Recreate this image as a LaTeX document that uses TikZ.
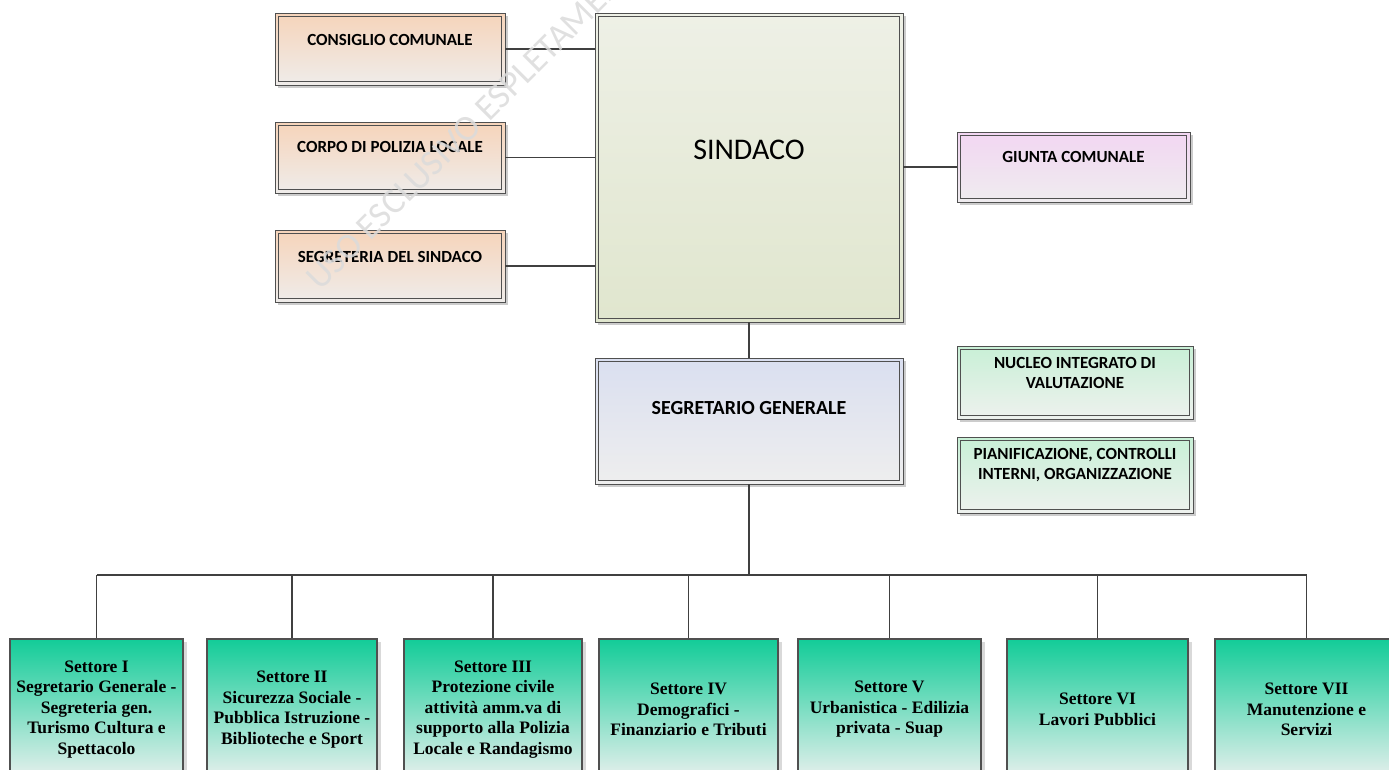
\documentclass[tikz,border=0pt]{standalone}
\usepackage{fontspec}
\setmainfont{Carlito}
\newfontfamily\serifbold{Liberation Serif}
\usetikzlibrary{shadows}

\definecolor{peachT}{HTML}{F6D4BA}
\definecolor{peachB}{HTML}{EFECEA}
\definecolor{sindT}{HTML}{EEF0E6}
\definecolor{sindB}{HTML}{E0E6CE}
\definecolor{giuT}{HTML}{F2D6F2}
\definecolor{giuB}{HTML}{EFECEF}
\definecolor{segT}{HTML}{DADFF0}
\definecolor{segB}{HTML}{EEEEEE}
\definecolor{nucT}{HTML}{C8F0D6}
\definecolor{nucB}{HTML}{EEF1EE}
\definecolor{setT}{HTML}{12CC98}
\definecolor{setB}{HTML}{E9F0EE}
\definecolor{edge}{HTML}{505050}
\definecolor{conncol}{HTML}{404040}

\tikzset{
  dbox/.style={draw=edge, line width=0.9pt, inner sep=0pt, rectangle,
    drop shadow={shadow xshift=3pt, shadow yshift=-3pt, fill=black!20, opacity=1},
    path picture={\draw[edge, line width=0.9pt]
      ([shift={(3.2pt,3.2pt)}]path picture bounding box.south west) rectangle
      ([shift={(-3.2pt,-3.2pt)}]path picture bounding box.north east);}},
  sbox/.style={draw=edge, line width=1.1pt, inner sep=2pt, rectangle,
    top color=setT, bottom color=setB, align=center,
    minimum height=141pt,
    drop shadow={shadow xshift=4pt, shadow yshift=-3pt, fill=black!15, opacity=1},
    font=\serifbold\bfseries\fontsize{17.5}{20.5}\selectfont},
  lbl/.style={inner sep=0pt, align=center, font=\bfseries\fontsize{17}{20}\selectfont},
  conn/.style={draw=conncol, line width=1.8pt},
}

\begin{document}
\begin{tikzpicture}[x=1pt, y=-1pt]
\useasboundingbox (0,0) rectangle (1389,769);
\clip (0,0) rectangle (1389,769);

% left peach boxes
\node[dbox, top color=peachT, bottom color=peachB, minimum width=230pt, minimum height=72pt] (cons) at (390,49) {};
\node[lbl] (consT) at (390,40) {CONSIGLIO COMUNALE};
\node[dbox, top color=peachT, bottom color=peachB, minimum width=230pt, minimum height=71pt] (corpo) at (390,157.5) {};
\node[lbl] (corpoT) at (390,147) {CORPO DI POLIZIA LOCALE};
\node[dbox, top color=peachT, bottom color=peachB, minimum width=230pt, minimum height=72pt] (segr) at (390,266) {};
\node[lbl] (segrT) at (390,257) {SEGRETERIA DEL SINDACO};

% Sindaco
\node[dbox, top color=sindT, bottom color=sindB, minimum width=308pt, minimum height=309pt] (sind) at (749,167.5) {};
\node[inner sep=0pt, font=\fontsize{30}{32}\selectfont] (sindT) at (749,150) {SINDACO};

% Giunta
\node[dbox, top color=giuT, bottom color=giuB, minimum width=233pt, minimum height=70pt] (giu) at (1073.5,167) {};
\node[lbl] (giuT) at (1073.5,157) {GIUNTA COMUNALE};

% Segretario generale
\node[dbox, top color=segT, bottom color=segB, minimum width=308pt, minimum height=126pt] (seg) at (749,421) {};
\node[lbl, font=\bfseries\fontsize{20}{22}\selectfont] (segT) at (749,408) {SEGRETARIO GENERALE};

% Nucleo / Pianificazione
\node[dbox, top color=nucT, bottom color=nucB, minimum width=236pt, minimum height=73pt] (nuc) at (1075,382.5) {};
\node[lbl] (nucT) at (1075,373) {NUCLEO INTEGRATO DI\\VALUTAZIONE};
\node[dbox, top color=nucT, bottom color=nucB, minimum width=236pt, minimum height=76pt] (pian) at (1075,475) {};
\node[lbl] (pianT) at (1075,465) {PIANIFICAZIONE, CONTROLLI\\INTERNI, ORGANIZZAZIONE};

% Settori
\node[sbox, minimum width=173pt] (s1) at (96.5,709.5) {Settore I\\Segretario Generale -\\Segreteria gen.\\Turismo Cultura e\\Spettacolo};
\node[sbox, minimum width=170pt] (s2) at (292,709.5) {Settore II\\Sicurezza Sociale -\\Pubblica Istruzione -\\Biblioteche e Sport};
\node[sbox, minimum width=178pt] (s3) at (493,709.5) {Settore III\\Protezione civile\\attività amm.va di\\supporto alla Polizia\\Locale e Randagismo};
\node[sbox, minimum width=179pt] (s4) at (688.5,709.5) {Settore IV\\Demografici -\\Finanziario e Tributi};
\node[sbox, minimum width=183pt] (s5) at (889.5,709.5) {Settore V\\Urbanistica - Edilizia\\privata - Suap};
\node[sbox, minimum width=181pt] (s6) at (1097.5,709.5) {Settore VI\\Lavori Pubblici};
\node[sbox, minimum width=183pt] (s7) at (1306.5,709.5) {Settore VII\\Manutenzione e\\Servizi};

% connectors
\draw[conn] (cons.east) -- (cons.east -| sind.west);
\draw[conn] (corpo.east) -- (corpo.east -| sind.west);
\draw[conn] (segr.east) -- (segr.east -| sind.west);
\draw[conn] (sind.east |- giu.west) -- (giu.west);
\draw[conn] (sind.south) -- (seg.north);
\coordinate (bus) at (749,575);
\draw[conn] (seg.south) -- (bus);
\draw[conn] (s1.north |- bus) -- (s7.north |- bus);
\foreach \s in {s1,s2,s3,s4,s5,s6,s7} {\draw[conn] (\s.north |- bus) -- (\s.north);}

% watermark (on top, light)
\node[rotate=45, anchor=base west, inner sep=0pt, text=black!14, text opacity=0.85, font=\fontsize{36}{38}\selectfont] (wm) at (320,292) {USO ESCLUSIVO ESPLETAMENTO};
\end{tikzpicture}
\end{document}
